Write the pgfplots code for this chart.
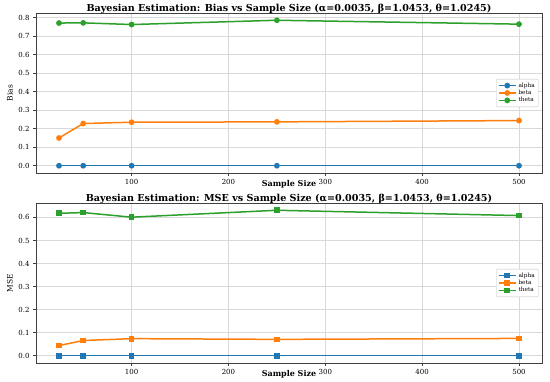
\documentclass[border=0pt]{standalone}
\usepackage{fontspec}
\setmainfont{DejaVu Serif}
\usepackage{pgfplots}
\pgfplotsset{compat=1.18}
\definecolor{tblue}{HTML}{1F77B4}
\definecolor{torange}{HTML}{FF7F0E}
\definecolor{tgreen}{HTML}{2CA02C}
\pgfplotsset{
  common/.style={
    axis on top=false,
    scale only axis, width=506pt, height=160pt,
    xmin=1.25, xmax=523.75,
    xtick={100,200,300,400,500},
    xtick pos=left, ytick pos=left,
    grid=major, grid style={gray!30, line width=0.6pt},
    axis line style={black!75, line width=0.8pt},
    tick align=outside, tick style={black!75, line width=0.6pt},
    major tick length=3pt,
    tick label style={font=\fontsize{7}{8}\selectfont},
    /pgf/number format/assume math mode=true,
    yticklabel style={/pgf/number format/fixed, /pgf/number format/fixed zerofill, /pgf/number format/precision=1},
    xlabel={\textbf{Sample Size}},
    xlabel style={font=\fontsize{8}{9}\selectfont, at={(axis description cs:0.5,0)}, anchor=center, yshift=-11pt},
    ylabel style={font=\fontsize{7.5}{8}\selectfont, at={(axis description cs:-0.0514,0.5)}, anchor=center},
    title style={font=\fontsize{9.6}{10}\selectfont\bfseries, at={(axis description cs:0.5,1)}, anchor=base, yshift=-4.4pt},
    legend style={font=\fontsize{5.8}{6}\selectfont, at={(0.993,0.5)}, anchor=east,
      draw=black!25, rounded corners=1pt, row sep=-2.5pt, inner sep=1.5pt},
    legend cell align=left, reverse legend,
    every axis plot/.append style={line width=1.5pt},
  }
}
\begin{document}
\begin{tikzpicture}
\useasboundingbox (0,0) rectangle (550pt,-382pt);
\begin{axis}[common, at={(36pt,-173pt)}, anchor=south west,
  ymin=-0.0393, ymax=0.8253, ytick={0,0.1,...,0.8},
  title={Bayesian Estimation: Bias vs Sample Size (α=0.0035, β=1.0453, θ=1.0245)},
  ylabel={Bias}]
\addplot[tgreen, mark=*, mark size=2.1pt] coordinates {(25,0.771) (50,0.772) (100,0.763) (250,0.786) (500,0.765)};
\addlegendentry{theta}
\addplot[torange, mark=*, mark size=2.1pt] coordinates {(25,0.150) (50,0.228) (100,0.235) (250,0.237) (500,0.244)};
\addlegendentry{beta}
\addplot[tblue, mark=*, mark size=2.1pt] coordinates {(25,0) (50,0) (100,0) (250,0) (500,0)};
\addlegendentry{alpha}
\end{axis}
\begin{axis}[common, at={(36pt,-363pt)}, anchor=south west,
  ymin=-0.0316, ymax=0.6626, ytick={0,0.1,...,0.6},
  title={Bayesian Estimation: MSE vs Sample Size (α=0.0035, β=1.0453, θ=1.0245)},
  ylabel={MSE}]
\addplot[tgreen, mark=square*, mark size=2.1pt] coordinates {(25,0.618) (50,0.621) (100,0.601) (250,0.631) (500,0.608)};
\addlegendentry{theta}
\addplot[torange, mark=square*, mark size=2.1pt] coordinates {(25,0.044) (50,0.066) (100,0.074) (250,0.071) (500,0.075)};
\addlegendentry{beta}
\addplot[tblue, mark=square*, mark size=2.1pt] coordinates {(25,0) (50,0) (100,0) (250,0) (500,0)};
\addlegendentry{alpha}
\end{axis}
\end{tikzpicture}
\end{document}
